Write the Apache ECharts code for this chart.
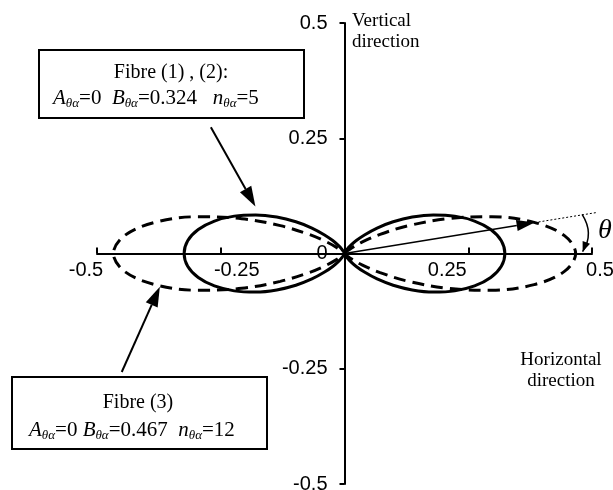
<!DOCTYPE html>
<html>
<head>
<meta charset="utf-8">
<script src="https://cdn.jsdelivr.net/npm/echarts@6/dist/echarts.min.js"></script>
<style>
  html, body { margin: 0; padding: 0; background: #fff; }
  #chart { width: 613px; height: 490px; }
</style>
</head>
<body>
<div id="chart"></div>
<script>
// Orientation lobes: radius sampled every 5 degrees over the first quadrant
const anglesDeg = [0, 5, 10, 15, 20, 25, 30, 35, 40, 45, 50, 55, 60, 65, 70, 75, 80, 85, 90];
const radiusFibre12 = [0.324, 0.318, 0.300, 0.272, 0.237, 0.198, 0.158, 0.120, 0.086, 0.057, 0.036, 0.020, 0.010, 0.004, 0.002, 0, 0, 0, 0];
const radiusFibre3  = [0.467, 0.446, 0.389, 0.308, 0.221, 0.143, 0.083, 0.043, 0.019, 0.007, 0.002, 0.001, 0, 0, 0, 0, 0, 0, 0];

// Axis ticks and their labels
const tickValues = [-0.5, -0.25, 0, 0.25, 0.5];
const xTickLabels = ['-0.5', '-0.25', '', '0.25', '0.5'];
const yTickLabels = ['-0.5', '-0.25', '0', '0.25', '0.5'];

// Annotation texts
const box12Title = 'Fibre (1) , (2):';
const box12Params = ['0', '0.324', '5'];
const box3Title = 'Fibre (3)';
const box3Params = ['0', '0.467', '12'];

const SERIF = '"Liberation Serif", "Times New Roman", serif';
const SANS = '"Liberation Sans", Arial, sans-serif';

// Grid placement; the axes cross in the middle of it
const GRID = { left: 97, right: 21, top: 23, bottom: 6 };
const W = 613, H = 490;
const gridW = W - GRID.left - GRID.right;
const gridH = H - GRID.top - GRID.bottom;

// Build a closed figure-eight path (both lobes) from first-quadrant polar samples
function figureEight(radii) {
  const q = anglesDeg.map((a, i) => {
    const t = a * Math.PI / 180;
    return [radii[i] * Math.cos(t), radii[i] * Math.sin(t)];
  });
  const pts = [];
  for (let i = q.length - 1; i >= 0; i--) pts.push([q[i][0], q[i][1]]);
  for (let i = 1; i < q.length; i++) pts.push([q[i][0], -q[i][1]]);
  for (let i = q.length - 2; i >= 0; i--) pts.push([-q[i][0], -q[i][1]]);
  for (let i = 1; i < q.length; i++) pts.push([-q[i][0], q[i][1]]);
  return pts;
}

function tickIndex(v) {
  return tickValues.findIndex(t => Math.abs(t - v) < 1e-9);
}

// Horizontal nudges for the x tick labels (rich style names)
const xLabelStyle = ['sl1', 'sr1', '', 'sl2', 'sr2'];
const labelFont = { fontFamily: SANS, fontSize: 20, color: '#000' };

const chart = echarts.init(document.getElementById('chart'), null, { renderer: 'canvas' });

chart.setOption({
  animation: false,
  backgroundColor: '#fff',
  grid: { ...GRID, containLabel: false, outerBoundsMode: 'none' },
  xAxis: {
    type: 'value', min: -0.5, max: 0.5, interval: 0.25,
    position: 'bottom', offset: -gridH / 2,
    axisLine: { onZero: false, lineStyle: { color: '#000', width: 2 } },
    axisTick: { inside: true, length: 6, lineStyle: { color: '#000', width: 2 } },
    splitLine: { show: false },
    axisLabel: {
      margin: 7,
      ...labelFont,
      formatter: v => {
        const i = tickIndex(v);
        if (i < 0 || !xTickLabels[i]) return '';
        return '{' + xLabelStyle[i] + '|' + xTickLabels[i] + '}';
      },
      rich: {
        sl1: { ...labelFont, padding: [0, 22, 0, 0] },
        sr1: { ...labelFont, padding: [0, 0, 0, 32] },
        sl2: { ...labelFont, padding: [0, 42, 0, 0] },
        sr2: { ...labelFont, padding: [0, 0, 0, 16] }
      }
    }
  },
  yAxis: {
    type: 'value', min: -0.5, max: 0.5, interval: 0.25,
    position: 'left', offset: -gridW / 2,
    axisLine: { onZero: false, lineStyle: { color: '#000', width: 2 } },
    axisTick: { inside: false, length: 5, lineStyle: { color: '#000', width: 2 } },
    splitLine: { show: false },
    axisLabel: {
      margin: 17,
      ...labelFont,
      formatter: v => {
        const i = tickIndex(v);
        return i < 0 ? '' : yTickLabels[i];
      }
    }
  },
  series: [
    {
      name: 'Fibre (1), (2)', type: 'line', data: figureEight(radiusFibre12),
      smooth: 0.35, symbol: 'none', clip: false,
      lineStyle: { color: '#000', width: 3 }
    },
    {
      name: 'Fibre (3)', type: 'line', data: figureEight(radiusFibre3),
      smooth: 0.35, symbol: 'none', clip: false,
      lineStyle: { color: '#000', width: 3, type: [12, 7] }
    }
  ]
});

// ---- annotations ----
const px = p => chart.convertToPixel({ gridIndex: 0 }, p);

function arrow(from, to, headLen, headW, width) {
  const dx = to[0] - from[0], dy = to[1] - from[1];
  const len = Math.hypot(dx, dy);
  const ux = dx / len, uy = dy / len;
  const bx = to[0] - ux * headLen, by = to[1] - uy * headLen;
  return [
    { type: 'line', shape: { x1: from[0], y1: from[1], x2: bx, y2: by },
      style: { stroke: '#000', lineWidth: width } },
    { type: 'polygon',
      shape: { points: [to, [bx - uy * headW / 2, by + ux * headW / 2], [bx + uy * headW / 2, by - ux * headW / 2]] },
      style: { fill: '#000' } }
  ];
}

function paramLine(vals, gap1, gap2) {
  return '{i|A}{s|θα}{r|=' + vals[0] + ' '.repeat(gap1) + '}{i|B}{s|θα}{r|=' + vals[1] + ' '.repeat(gap2) +
    '}{i|n}{s|θα}{r|=' + vals[2] + '}';
}

const paramRich = {
  i: { fontFamily: SERIF, fontSize: 21, fontStyle: 'italic', fill: '#000', lineHeight: 24 },
  r: { fontFamily: SERIF, fontSize: 21, fill: '#000', lineHeight: 24 },
  s: { fontFamily: SERIF, fontSize: 13, fontStyle: 'italic', fill: '#000', lineHeight: 12, verticalAlign: 'bottom' }
};

const origin = px([0, 0]);
const vecTip = px([0.384, 0.067]);
const dotEnd = px([0.51, 0.089]);
const arcTop = px([0.48, 0.085]);
const arcCtl = px([0.505, 0.043]);
const arcEnd = px([0.481, 0.004]);
const thetaPos = px([0.526, 0.05]);

const graphics = [];

// Pointer arrows from the boxes to the curves
graphics.push(...arrow(px([-0.27, 0.274]), px([-0.18, 0.102]), 20, 13, 2));
graphics.push(...arrow(px([-0.45, -0.257]), px([-0.373, -0.072]), 20, 13, 2));

// Direction vector and angle marker
graphics.push(...arrow(origin, vecTip, 18, 11, 1.5));
graphics.push({ type: 'line', shape: { x1: vecTip[0], y1: vecTip[1], x2: dotEnd[0], y2: dotEnd[1] },
  style: { stroke: '#000', lineWidth: 1, lineDash: [2, 2] } });
graphics.push({ type: 'bezierCurve',
  shape: { x1: arcTop[0], y1: arcTop[1], cpx1: arcCtl[0], cpy1: arcCtl[1], x2: arcEnd[0], y2: arcEnd[1] },
  style: { stroke: '#000', lineWidth: 1.5, fill: null } });
graphics.push(...arrow([arcEnd[0] + 4, arcEnd[1] - 10], arcEnd, 10, 8, 0));
graphics.push({ type: 'text', style: { text: 'θ', x: thetaPos[0], y: thetaPos[1], fill: '#000',
  font: 'italic 28px ' + SERIF, textAlign: 'center', textVerticalAlign: 'middle' } });

// Axis direction captions
graphics.push({ type: 'text', style: { text: 'Vertical\ndirection', x: 352, y: 11, fill: '#000',
  font: '19px ' + SERIF, lineHeight: 21, textAlign: 'left', textVerticalAlign: 'top' } });
graphics.push({ type: 'text', style: { text: 'Horizontal\ndirection', x: 561, y: 350, fill: '#000',
  font: '19px ' + SERIF, lineHeight: 21, textAlign: 'center', textVerticalAlign: 'top' } });

// Parameter boxes
graphics.push({ type: 'rect', shape: { x: 39, y: 50, width: 265, height: 68 },
  style: { fill: '#fff', stroke: '#000', lineWidth: 2 } });
graphics.push({ type: 'text', style: { text: box12Title, x: 171, y: 73, fill: '#000',
  font: '20px ' + SERIF, textAlign: 'center', textVerticalAlign: 'middle' } });
graphics.push({ type: 'text', style: { text: paramLine(box12Params, 2, 3), rich: paramRich, x: 53, y: 98,
  textAlign: 'left', textVerticalAlign: 'middle' } });

graphics.push({ type: 'rect', shape: { x: 12, y: 377, width: 255, height: 72 },
  style: { fill: '#fff', stroke: '#000', lineWidth: 2 } });
graphics.push({ type: 'text', style: { text: box3Title, x: 138, y: 403, fill: '#000',
  font: '20px ' + SERIF, textAlign: 'center', textVerticalAlign: 'middle' } });
graphics.push({ type: 'text', style: { text: paramLine(box3Params, 1, 2), rich: paramRich, x: 29, y: 430,
  textAlign: 'left', textVerticalAlign: 'middle' } });

chart.setOption({ graphic: { elements: graphics.map(g => ({ ...g, z: 100 })) } });
</script>
</body>
</html>
